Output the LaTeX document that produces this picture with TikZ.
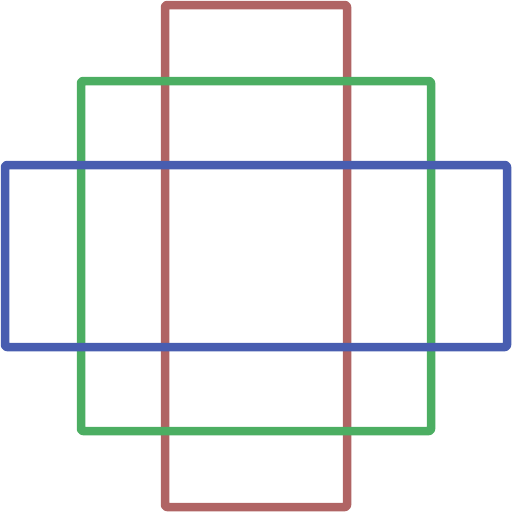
\documentclass[tikz,border=0pt]{standalone}
\begin{document}
\begin{tikzpicture}[x=1pt,y=-1pt,
  frame/.style={line width=8.5pt, line join=round, rounded corners=2pt}]
\definecolor{cred}{RGB}{176,100,100}
\definecolor{cgreen}{RGB}{76,174,98}
\definecolor{cblue}{RGB}{72,93,176}
\useasboundingbox (0,0) rectangle (512,512);
\draw[frame, cred] (165,5) rectangle (347,507);
\draw[frame, cgreen] (81,81) rectangle (431,431);
\draw[frame, cblue] (5,165) rectangle (507,347);
\end{tikzpicture}
\end{document}
